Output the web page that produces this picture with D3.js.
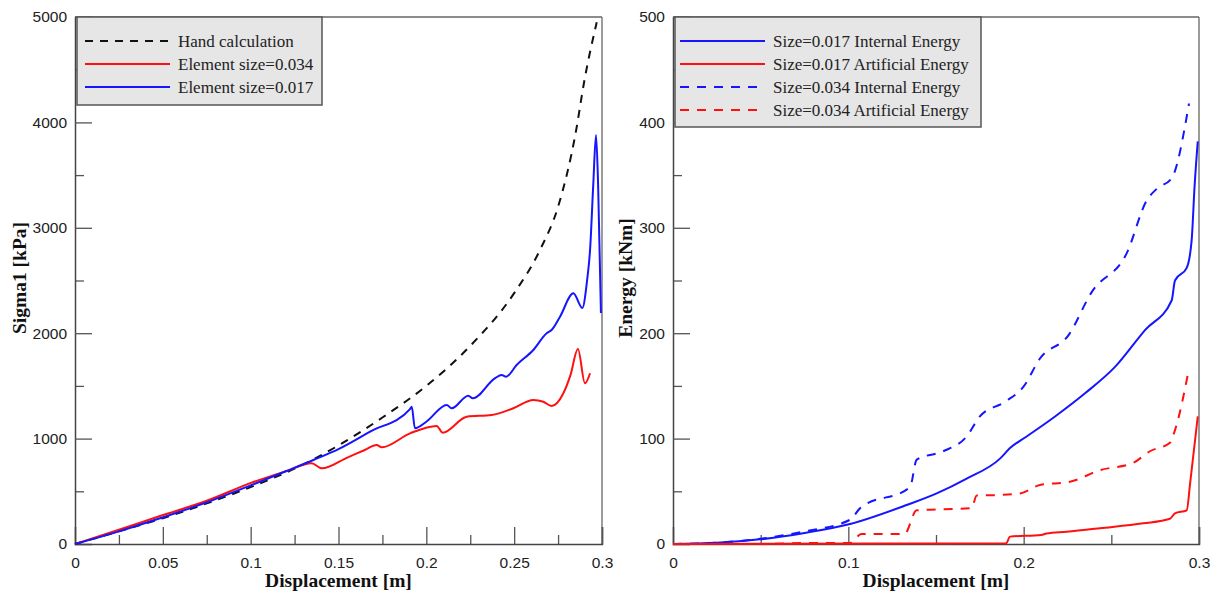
<!DOCTYPE html>
<html>
<head>
<meta charset="utf-8">
<script src="https://cdn.jsdelivr.net/npm/d3@7"></script>
<style>
  body { margin: 0; background: #fff; }
  .tick text { font-family: "Liberation Sans", Arial, sans-serif; font-size: 15.5px; fill: #222; }
  .axis-title { font-family: "Liberation Serif", "Times New Roman", serif; font-size: 19.5px; font-weight: bold; fill: #111; }
  .legend text { font-family: "Liberation Serif", "Times New Roman", serif; font-size: 17px; fill: #222; }
</style>
</head>
<body>
<div id="chart"></div>
<script>
// ---- left panel: stress vs displacement ----
const handX = [0, 0.025, 0.05, 0.075, 0.1, 0.125, 0.15, 0.175, 0.2, 0.225, 0.25, 0.265, 0.275, 0.285, 0.29, 0.297];
const handY = [0, 120, 245, 385, 540, 715, 935, 1200, 1500, 1880, 2380, 2800, 3200, 3900, 4400, 4950];

const red034X = [0, 0.025, 0.0484, 0.075, 0.1006, 0.12, 0.1347, 0.1404, 0.155, 0.165, 0.1717, 0.1746, 0.1907, 0.2059, 0.2093, 0.223, 0.2372, 0.2495, 0.2609, 0.2666, 0.2713, 0.278, 0.282, 0.2863, 0.2903, 0.2932];
const red034Y = [0, 135, 265, 410, 582, 690, 766, 718, 820, 892, 939, 917, 1050, 1120, 1056, 1208, 1224, 1288, 1366, 1350, 1309, 1430, 1600, 1850, 1525, 1620];

const blue017X = [0, 0.025, 0.0484, 0.075, 0.1006, 0.12, 0.1357, 0.15, 0.168, 0.1907, 0.1917, 0.1935, 0.2, 0.2116, 0.2144, 0.2239, 0.2264, 0.239, 0.2429, 0.2454, 0.2514, 0.2609, 0.2685, 0.2713, 0.2761, 0.2837, 0.2888, 0.2915, 0.2932, 0.295, 0.2966, 0.2978, 0.2994];
const blue017Y = [0, 120, 244, 395, 560, 690, 797, 900, 1066, 1280, 1303, 1098, 1160, 1319, 1288, 1407, 1382, 1572, 1603, 1587, 1698, 1841, 1999, 2030, 2157, 2379, 2240, 2500, 2789, 3400, 3880, 3400, 2192];

// ---- right panel: energy vs displacement ----
const ie017X = [0, 0.025, 0.0496, 0.075, 0.101, 0.1333, 0.1504, 0.1675, 0.1865, 0.1922, 0.2017, 0.2179, 0.235, 0.2521, 0.2692, 0.2844, 0.2863, 0.293, 0.2958, 0.2975, 0.2993];
const ie017Y = [0, 1.1, 4.4, 10.5, 19, 37, 48, 62, 81, 91, 102, 121, 143, 168, 203, 231, 250, 262, 288, 340, 382];

const ae017X = [0, 0.19, 0.1922, 0.21, 0.213, 0.2245, 0.2435, 0.2682, 0.2834, 0.2863, 0.293, 0.2949, 0.2993];
const ae017Y = [0, 0.6, 7, 8.5, 10, 11.7, 15, 19.6, 24, 29, 32, 57, 121];

const ie034X = [0, 0.025, 0.05, 0.0743, 0.101, 0.1067, 0.1352, 0.139, 0.1541, 0.1675, 0.175, 0.1894, 0.1998, 0.2093, 0.2255, 0.2388, 0.2588, 0.2702, 0.2759, 0.2844, 0.2943];
const ie034Y = [0, 1.2, 5, 11.7, 23, 34, 54, 80, 88, 102, 121, 135, 149, 176, 198, 239, 276, 326, 337, 347, 418];

const ae034X = [0, 0.05, 0.08, 0.101, 0.1075, 0.132, 0.139, 0.1703, 0.1732, 0.1865, 0.198, 0.2093, 0.2264, 0.2435, 0.2625, 0.272, 0.2834, 0.2863, 0.2939];
const ae034Y = [0, 0, 1, 1, 9.5, 9.5, 32, 34, 46, 46.5, 48, 56, 59, 70, 77, 88, 96, 108, 163];

const leftXTicks = [0, 0.05, 0.1, 0.15, 0.2, 0.25, 0.3];
const leftXMinor = [0.025, 0.075, 0.125, 0.175, 0.225, 0.275];
const leftYTicks = [0, 1000, 2000, 3000, 4000, 5000];
const leftYMinor = [500, 1500, 2500, 3500, 4500];
const rightXTicks = [0, 0.1, 0.2, 0.3];
const rightXMinor = [0.05, 0.15, 0.25];
const rightYTicks = [0, 100, 200, 300, 400, 500];
const rightYMinor = [50, 150, 250, 350, 450];

const svg = d3.select("#chart").append("svg")
    .attr("width", 1214)
    .attr("height", 593)
    .style("background", "#fff");

function zipXY(xs, ys) {
    return xs.map((x, i) => ({x: x, y: ys[i]}));
}

function drawPanel(p) {
    const x = d3.scaleLinear().domain([0, 0.3]).range([p.left, p.right]);
    const y = d3.scaleLinear().domain([0, p.yMax]).range([544, 17]);
    const g = svg.append("g");

    // frame (top + right lighter)
    g.append("line").attr("x1", p.left).attr("x2", p.right).attr("y1", 17).attr("y2", 17)
        .attr("stroke", "#666").attr("stroke-width", 1.3);
    g.append("line").attr("x1", p.right).attr("x2", p.right).attr("y1", 17).attr("y2", 544)
        .attr("stroke", "#666").attr("stroke-width", 1.3);

    // minor ticks (inward)
    g.append("g").attr("transform", "translate(0,544)")
        .call(d3.axisBottom(x).tickValues(p.xMinor).tickSize(-9).tickFormat(""))
        .call(a => a.select(".domain").remove());
    g.append("g").attr("transform", "translate(" + p.left + ",0)")
        .call(d3.axisLeft(y).tickValues(p.yMinor).tickSize(-9).tickFormat(""))
        .call(a => a.select(".domain").remove());

    // major ticks
    const xa = g.append("g").attr("transform", "translate(0,544)")
        .call(d3.axisBottom(x).tickValues(p.xTicks).tickSize(-17).tickPadding(8).tickFormat(d3.format("")));
    xa.selectAll(".tick text").attr("dy", "1.05em");
    const ya = g.append("g").attr("transform", "translate(" + p.left + ",0)")
        .call(d3.axisLeft(y).tickValues(p.yTicks).tickSize(-17).tickPadding(7).tickFormat(d3.format("d")));
    ya.selectAll(".tick text").attr("dx", -1);

    g.selectAll(".tick line").attr("stroke", "#555").attr("stroke-width", 1.3);
    g.selectAll(".domain").attr("stroke", "#444").attr("stroke-width", 1.5);
    // no tick mark at the origin
    g.selectAll(".tick").filter(d => d === 0).select("line").remove();

    // curves
    const line = d3.line()
        .x(d => x(d.x))
        .y(d => y(d.y))
        .curve(d3.curveMonotoneX);
    p.series.forEach(s => {
        g.append("path")
            .datum(zipXY(s.xs, s.ys))
            .attr("fill", "none")
            .attr("stroke", s.color)
            .attr("stroke-width", 2)
            .attr("stroke-dasharray", s.dash || null)
            .attr("d", line);
    });

    // axis titles
    g.append("text").attr("class", "axis-title")
        .attr("x", (p.left + p.right) / 2).attr("y", 587)
        .attr("text-anchor", "middle")
        .text("Displacement [m]");
    g.append("text").attr("class", "axis-title")
        .attr("transform", "translate(" + p.yTitleX + ",278) rotate(-90)")
        .attr("text-anchor", "middle")
        .text(p.yTitle);

    // legend
    const lg = g.append("g").attr("class", "legend");
    lg.append("rect")
        .attr("x", p.left + 2).attr("y", 17)
        .attr("width", p.legendW).attr("height", p.legendH)
        .attr("fill", "#e6e6e6").attr("stroke", "#555").attr("stroke-width", 1.5);
    p.legendOrder.forEach((s, i) => {
        const ly = 41 + i * 23;
        lg.append("line")
            .attr("x1", p.left + p.legendPad).attr("x2", p.left + p.legendPad + 85)
            .attr("y1", ly).attr("y2", ly)
            .attr("stroke", s.color).attr("stroke-width", 2)
            .attr("stroke-dasharray", s.dash || null);
        lg.append("text")
            .attr("x", p.left + p.legendPad + 93).attr("y", ly + 5.5)
            .text(s.name);
    });
}

const hand = {name: "Hand calculation", xs: handX, ys: handY, color: "#111", dash: "8,7"};
const red034 = {name: "Element size=0.034", xs: red034X, ys: red034Y, color: "#ff1010"};
const blue017 = {name: "Element size=0.017", xs: blue017X, ys: blue017Y, color: "#1515ff"};

drawPanel({
    left: 75, right: 602, yMax: 5000,
    xTicks: leftXTicks, xMinor: leftXMinor, yTicks: leftYTicks, yMinor: leftYMinor,
    yTitle: "Sigma1 [kPa]", yTitleX: 26,
    series: [hand, red034, blue017],
    legendOrder: [hand, red034, blue017],
    legendW: 245, legendH: 88, legendPad: 10
});

const ie017 = {name: "Size=0.017 Internal Energy", xs: ie017X, ys: ie017Y, color: "#1515ff"};
const ae017 = {name: "Size=0.017 Artificial Energy", xs: ae017X, ys: ae017Y, color: "#ff1010"};
const ie034 = {name: "Size=0.034 Internal Energy", xs: ie034X, ys: ie034Y, color: "#1515ff", dash: "9,8"};
const ae034 = {name: "Size=0.034 Artificial Energy", xs: ae034X, ys: ae034Y, color: "#ff1010", dash: "9,8"};

drawPanel({
    left: 673, right: 1199, yMax: 500,
    xTicks: rightXTicks, xMinor: rightXMinor, yTicks: rightYTicks, yMinor: rightYMinor,
    yTitle: "Energy [kNm]", yTitleX: 632,
    series: [ie034, ie017, ae034, ae017],
    legendOrder: [ie017, ae017, ie034, ae034],
    legendW: 306, legendH: 110, legendPad: 7
});
</script>
</body>
</html>
